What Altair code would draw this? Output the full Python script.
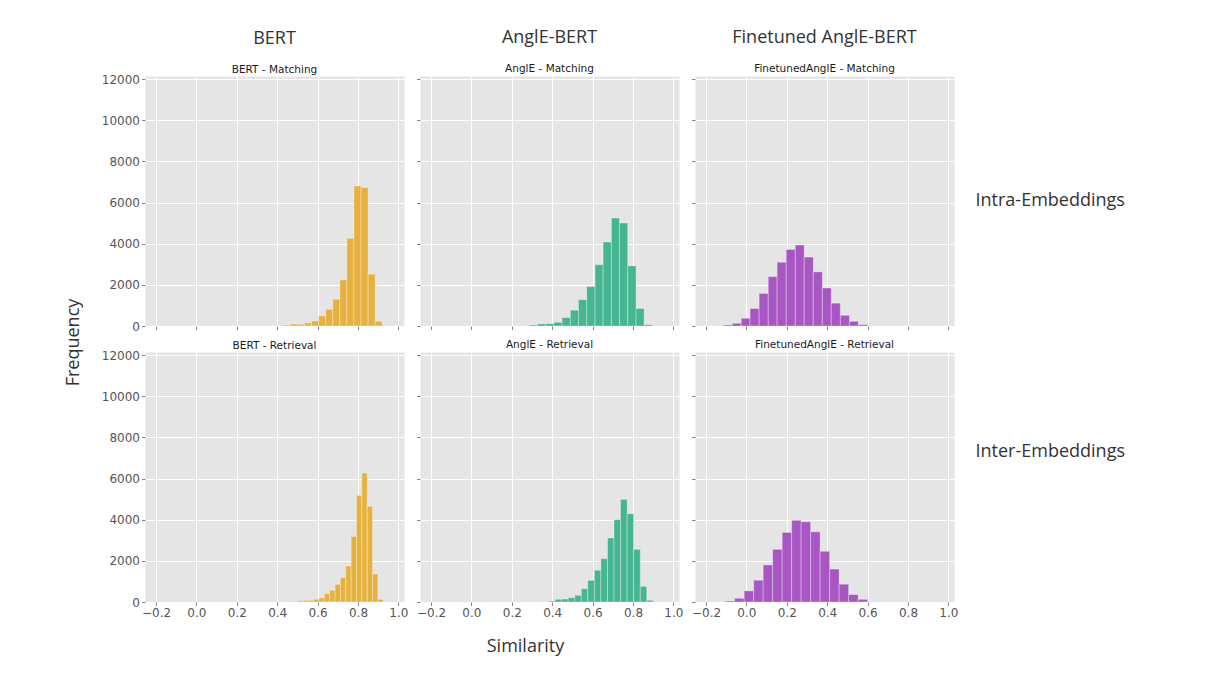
import altair as alt
import pandas as pd

# ---------------- data ----------------
COLUMN_TITLES = ["BERT", "AnglE-BERT", "Finetuned AnglE-BERT"]
ROW_LABELS = ["Intra-Embeddings", "Inter-Embeddings"]
PANEL_TITLES = [
    ["BERT - Matching", "AnglE - Matching", "FinetunedAnglE - Matching"],
    ["BERT - Retrieval", "AnglE - Retrieval", "FinetunedAnglE - Retrieval"],
]
COLORS = ["#E6B13E", "#46B592", "#A756C4"]

BERT_MATCH_EDGES = [0.430, 0.465, 0.500, 0.535, 0.570, 0.605, 0.640, 0.675,
                    0.710, 0.745, 0.780, 0.815, 0.850, 0.885, 0.920]
BERT_MATCH_COUNTS = [50, 100, 80, 150, 250, 490, 810, 1300, 2240, 4260,
                     6810, 6730, 2520, 230]

ANGLE_MATCH_EDGES = [0.287, 0.327, 0.368, 0.408, 0.449, 0.490, 0.530, 0.571,
                     0.612, 0.652, 0.693, 0.733, 0.774, 0.815, 0.855, 0.896]
ANGLE_MATCH_COUNTS = [50, 100, 115, 180, 410, 770, 1280, 1920, 2980, 4080,
                      5250, 5000, 2920, 850, 65]

FT_MATCH_EDGES = [-0.115, -0.070, -0.026, 0.018, 0.063, 0.108, 0.152, 0.197,
                  0.242, 0.286, 0.331, 0.376, 0.420, 0.465, 0.510, 0.554, 0.599]
FT_MATCH_COUNTS = [50, 130, 375, 850, 1580, 2400, 3100, 3720, 3935, 3350,
                   2630, 1845, 1110, 520, 230, 65]

BERT_RETR_EDGES = [0.4745, 0.501, 0.5275, 0.554, 0.5805, 0.607, 0.6335, 0.660,
                   0.6865, 0.713, 0.7395, 0.766, 0.7925, 0.819, 0.8455, 0.872,
                   0.8985, 0.925]
BERT_RETR_COUNTS = [30, 65, 80, 80, 130, 195, 405, 570, 860, 1180, 1750,
                    3190, 5180, 6270, 4650, 1360, 130]

ANGLE_RETR_EDGES = [0.382, 0.414, 0.447, 0.479, 0.512, 0.544, 0.576, 0.609,
                    0.641, 0.674, 0.706, 0.738, 0.771, 0.803, 0.836, 0.868, 0.900]
ANGLE_RETR_COUNTS = [50, 130, 145, 210, 325, 650, 1050, 1540, 2105, 3110,
                     4000, 4990, 4290, 2560, 760, 80]

FT_RETR_EDGES = [-0.105, -0.058, -0.011, 0.036, 0.083, 0.130, 0.177, 0.224,
                 0.271, 0.318, 0.365, 0.412, 0.459, 0.506, 0.553, 0.600]
FT_RETR_COUNTS = [50, 180, 540, 1060, 1800, 2560, 3380, 3970, 3900, 3410,
                  2465, 1600, 865, 360, 130]

X_TICKS = [-0.2, 0.0, 0.2, 0.4, 0.6, 0.8, 1.0]
Y_TICKS = [0, 2000, 4000, 6000, 8000, 10000, 12000]
X_DOMAIN = [-0.2545, 1.0277]
Y_DOMAIN = [0, 12150]

PANELS = [
    [(BERT_MATCH_EDGES, BERT_MATCH_COUNTS), (ANGLE_MATCH_EDGES, ANGLE_MATCH_COUNTS),
     (FT_MATCH_EDGES, FT_MATCH_COUNTS)],
    [(BERT_RETR_EDGES, BERT_RETR_COUNTS), (ANGLE_RETR_EDGES, ANGLE_RETR_COUNTS),
     (FT_RETR_EDGES, FT_RETR_COUNTS)],
]

W, H = 259, 250
TITLE_FONT = "Open Sans"
TITLE_COLOR = "#333333"


def panel(row, col):
    edges, counts = PANELS[row][col]
    df = pd.DataFrame({"start": edges[:-1], "end": edges[1:], "count": counts})

    y_axis = dict(values=Y_TICKS, labels=(col == 0), format="d")
    y_title = None
    if row == 0 and col == 0:
        y_title = "Frequency"
        y_axis.update(titleAngle=270, titleAlign="center", titleBaseline="alphabetic",
                      titleX=-66.5, titleY=266)
    elif col == 2:
        y_title = ROW_LABELS[row]
        y_axis.update(titleAngle=0, titleAlign="left", titleBaseline="alphabetic",
                      titleX=280, titleY=129 if row == 0 else 104.5)

    x_axis = dict(values=X_TICKS, labels=(row == 1), format=".1f")
    x_title = None
    if row == 1 and col == 1:
        x_title = "Similarity"
        x_axis.update(titleAlign="center", titleBaseline="alphabetic",
                      titleX=105, titleY=49)

    # left-column panels have a y label poking above the frame; compensate
    off = -2 if col == 0 else 2
    if row == 0:
        title = alt.TitleParams(
            text=COLUMN_TITLES[col], subtitle=PANEL_TITLES[row][col],
            font=TITLE_FONT, fontSize=18, fontWeight="normal", color=TITLE_COLOR,
            subtitleFont="DejaVu Sans", subtitleFontSize=10.5,
            subtitleColor="#1a1a1a", subtitlePadding=17, offset=off, anchor="middle")
    else:
        title = alt.TitleParams(
            text=PANEL_TITLES[row][col], font="DejaVu Sans", fontSize=10.5,
            fontWeight="normal", color="#1a1a1a", offset=off, anchor="middle")

    return alt.Chart(df).mark_bar(
        color=COLORS[col], stroke="#FFFFFF", strokeWidth=0.6, strokeOpacity=0.55
    ).encode(
        x=alt.X("start:Q", title=x_title,
                scale=alt.Scale(domain=X_DOMAIN, nice=False, zero=False),
                axis=alt.Axis(**x_axis)),
        x2="end:Q",
        y=alt.Y("count:Q", title=y_title,
                scale=alt.Scale(domain=Y_DOMAIN, nice=False),
                axis=alt.Axis(**y_axis)),
        y2=alt.datum(0),
    ).properties(width=W, height=H, title=title)


panels = [panel(r, c) for r in range(2) for c in range(3)]

chart = alt.concat(
    *panels, columns=3, spacing={"row": 26, "column": 16}, bounds="flush"
).properties(
    padding={"left": 56, "top": 20, "right": 60, "bottom": 12},
    background="white",
).configure_view(
    fill="#E5E5E5", stroke="transparent"
).configure_axis(
    grid=True, gridColor="#FFFFFF", gridWidth=1, domain=False,
    tickColor="#666666", tickSize=3.5, tickWidth=0.8,
    labelFont="DejaVu Sans", labelFontSize=12, labelColor="#555555",
    labelPadding=2, labelFlush=False, labelOverlap=False,
    titleFont=TITLE_FONT, titleFontSize=18, titleFontWeight="normal",
    titleColor=TITLE_COLOR,
)

chart.save("out.html", embed_options={"renderer": "svg", "actions": False})
